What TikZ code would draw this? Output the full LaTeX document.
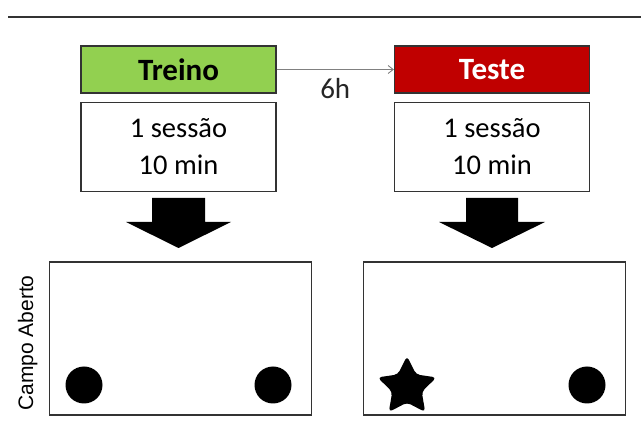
\documentclass[tikz,border=0pt]{standalone}
\usepackage{fontspec}
\setmainfont{Carlito}
\newfontfamily\armfont{Liberation Sans}
\usetikzlibrary{arrows.meta}
\definecolor{treinogreen}{HTML}{92D050}
\definecolor{testered}{HTML}{C00000}
\definecolor{edgegray}{HTML}{333333}
\begin{document}
\begin{tikzpicture}[x=1pt,y=-1pt,
  phasebox/.style={draw=edgegray,line width=1.3pt,minimum width=195pt,minimum height=47pt,inner sep=0pt,font=\fontsize{31}{31}\selectfont\bfseries},
  infobox/.style={draw=edgegray,line width=1.3pt,fill=white,minimum width=195pt,minimum height=89pt,inner sep=0pt,align=center,font=\fontsize{28.5}{37}\selectfont},
  arena/.style={draw=edgegray,line width=1.3pt,minimum width=262pt,minimum height=153pt,inner sep=0pt},
  bigarrow/.style={fill=black},
  object/.style={circle,fill=black,minimum size=37pt,inner sep=0pt}]
\useasboundingbox (0,0) rectangle (641,438);
% top rule
\draw[edgegray,line width=1.5pt] (8,17) -- (641,17);
% phase headers
\node[phasebox,fill=treinogreen,text=black] (treino) at (178.5,69.5) {Treino};
\node[phasebox,fill=testered,text=white] (teste) at (492,69.5) {Teste};
\draw[gray,line width=0.9pt,-{Straight Barb[length=5pt,width=8pt]}] (treino.east) -- node[below=5pt,font=\fontsize{29}{29}\selectfont,text=black!85] {6h} (teste.west);
% session details
\node[infobox] (infoA) at (178.5,147) {1 sessão\\10 min};
\node[infobox] (infoB) at (492,147) {1 sessão\\10 min};
% block arrows
\fill[bigarrow] (152,198) -- (205,198) -- (205,222) -- (231,222) -- (178.5,248) -- (126,222) -- (152,222) -- cycle;
\fill[bigarrow] (466,198) -- (518,198) -- (518,222) -- (545,222) -- (492,248) -- (439,222) -- (466,222) -- cycle;
% open field arenas
\node[arena] (arenaA) at (180.5,338.5) {};
\node[arena] (arenaB) at (494.5,338.5) {};
\node[rotate=90,font=\armfont\fontsize{21}{21}\selectfont,anchor=base] (label) at (33,343) {Campo Aberto};
% objects
\node[object] (objA1) at (84,385) {};
\node[object] (objA2) at (273,385) {};
\node[object] (objB2) at (587,385) {};
% star-shaped object (y axis points down, so 270 degrees is up)
\coordinate (starc) at (407,387);
\fill[black,rounded corners=4pt] (starc)
  +(270:31) -- +(306:15.5) -- +(342:31) -- +(18:15.5) -- +(54:31) -- +(90:15.5) -- +(126:31) -- +(162:15.5) -- +(198:31) -- +(234:15.5) -- cycle;
\end{tikzpicture}
\end{document}
